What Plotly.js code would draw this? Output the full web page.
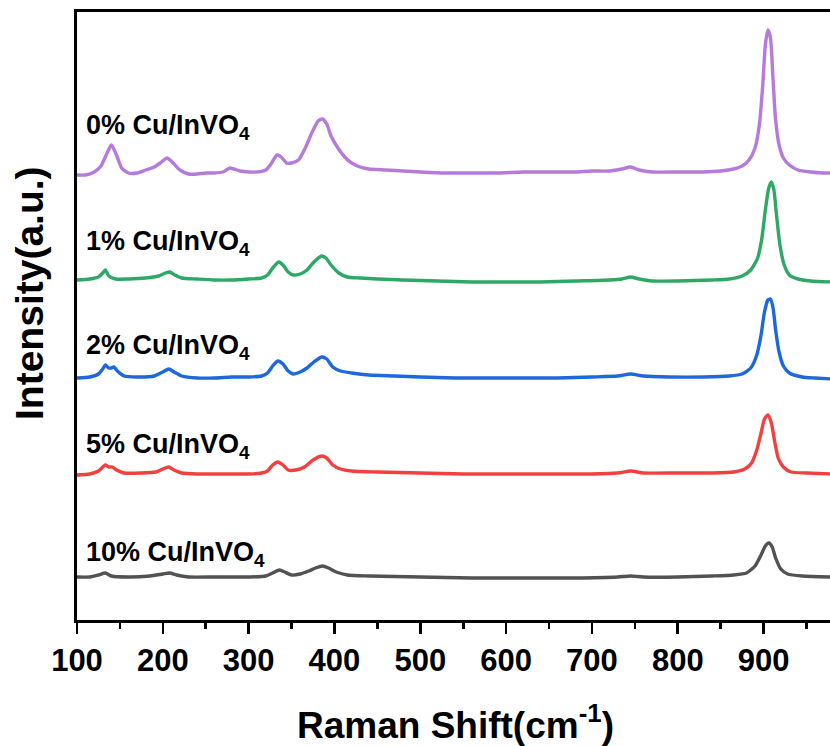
<!DOCTYPE html>
<html>
<head>
<meta charset="utf-8">
<script src="https://cdn.plot.ly/plotly-3.0.1.min.js"></script>
<style>
html,body{margin:0;padding:0;overflow:hidden;background:#fff;}
#chart{width:834px;height:746px;}
</style>
</head>
<body>
<div id="chart"></div>
<script>
// Raman shift (cm^-1) and stacked intensities (a.u.)
const shift0 = [100,110,120,128,134,140,146,152,160,170,180,190,197,205,212,220,230,240,250,260,270,278,283,290,300,310,320,326,333,338,344,350,358,366,374,381,386,391,396,404,412,420,430,440,460,480,500,530,560,590,620,650,680,700,720,735,745,755,770,800,830,850,865,875,883,890,895,899,902,905,908,911,914,918,923,930,940,955,970,980];
const int0   = [445,445,448,454,465,475,465,452,447,447,450,453,457,462,457,450,446,446,447,447,448,452,451,449,448,448,450,456,465,463,457,457,460,472,488,499,501,496,484,472,463,457,453,451,450,449,448,447,447,447,448,448,448,449,449,451,453,450,448,448,448,449,451,454,460,472,495,535,575,590,582,540,500,475,462,455,450,448,447,447];

const shift1 = [100,115,125,130,133,137,145,160,180,195,203,208,214,222,240,260,280,300,315,322,328,335,340,346,352,360,368,376,385,390,396,405,415,430,450,480,520,560,600,640,680,720,735,745,755,770,800,840,860,875,885,893,898,902,906,909,912,915,919,924,930,940,955,980];
const int1   = [340,341,343,347,350,344,341,341,342,344,347,348,345,342,341,340,340,341,342,345,352,358,355,348,345,346,350,358,364,362,355,347,343,342,341,340,339,338,338,338,339,340,341,343,341,339,339,340,341,344,350,362,382,410,432,438,430,405,375,355,345,341,339,338];

const shift2 = [100,115,125,130,133,137,140,143,147,155,170,190,200,207,213,222,240,260,280,290,300,315,322,328,334,340,346,352,360,368,376,385,391,398,407,420,440,470,500,540,580,620,660,700,730,745,760,790,830,860,875,885,892,897,901,905,908,911,914,918,923,930,945,960,980];
const int2   = [242,243,246,251,255,252,252,253,249,244,243,244,248,251,248,244,242,242,243,243,243,244,247,254,259,256,249,246,248,252,258,263,261,253,249,247,245,244,243,242,242,242,242,243,244,246,244,243,243,244,246,252,265,285,308,320,321,312,290,268,254,247,243,242,241];

const shift5 = [100,115,125,130,133,137,141,146,155,175,192,200,207,213,222,240,270,300,315,322,328,334,340,346,355,365,375,385,391,398,407,420,450,500,550,600,650,700,730,745,760,800,840,865,878,886,892,897,901,905,909,913,917,923,932,950,980];
const int5   = [145,146,149,153,155,153,153,150,147,147,148,151,153,150,147,146,146,146,147,149,155,158,155,150,150,153,160,164,162,155,151,149,148,147,146,146,146,146,147,149,147,147,147,148,151,157,170,187,201,205,197,178,162,153,148,147,146];

const shift10 = [100,115,125,133,140,160,185,200,208,216,230,260,300,320,328,336,342,350,360,370,378,386,393,402,415,440,500,560,620,680,730,745,760,800,840,865,880,890,897,902,906,910,914,920,928,945,980];
const int10   = [43,43,45,47,44,43,44,46,47,45,43,43,43,44,47,50,48,45,46,49,52,54,52,48,45,44,43,42,42,42,43,44,43,43,44,45,47,54,65,74,77,73,62,51,46,44,43];

const seriesNames = ["0% Cu/InVO<sub>4</sub>","1% Cu/InVO<sub>4</sub>","2% Cu/InVO<sub>4</sub>","5% Cu/InVO<sub>4</sub>","10% Cu/InVO<sub>4</sub>"];
const seriesColors = ["#b57bdc","#2ea865","#1c68dc","#f2403f","#525252"];
const labelX = [108,108,108,108,108];
const labelY = [493,377,273,174,66];
const xTicks = [100,200,300,400,500,600,700,800,900];

const xs = [shift0, shift1, shift2, shift5, shift10];
const ys = [int0, int1, int2, int5, int10];

const traces = xs.map((x, i) => ({
  x: x, y: ys[i], type: 'scatter', mode: 'lines', name: seriesNames[i],
  line: {color: seriesColors[i], width: 3.4, shape: 'spline', smoothing: 0.6},
  hoverinfo: 'skip'
}));

const font = {family: '"Liberation Sans", Arial, sans-serif', color: '#000', weight: 'bold'};

const annotations = seriesNames.map((t, i) => ({
  x: labelX[i], y: labelY[i], xref: 'x', yref: 'y', text: t, showarrow: false,
  xanchor: 'left', yanchor: 'middle',
  font: Object.assign({}, font, {size: 27})
}));
annotations.push({
  x: 0.5, y: -0.168, xref: 'paper', yref: 'paper', showarrow: false,
  text: 'Raman Shift(cm<sup>-1</sup>)', xanchor: 'center', yanchor: 'middle',
  font: Object.assign({}, font, {size: 37})
});
annotations.push({
  x: -0.062, y: 0.538, xref: 'paper', yref: 'paper', showarrow: false,
  text: 'Intensity(a.u.)', textangle: -90, xanchor: 'center', yanchor: 'middle',
  font: Object.assign({}, font, {size: 39})
});

const layout = {
  width: 834, height: 746, autosize: false,
  margin: {l: 77, r: 0, t: 12, b: 126},
  paper_bgcolor: '#fff', plot_bgcolor: '#fff',
  showlegend: false,
  xaxis: {
    range: [100, 982], showgrid: false, zeroline: false,
    showline: true, linecolor: '#000', linewidth: 2.6, mirror: true,
    ticks: 'outside', ticklen: 11, tickwidth: 2.6, tickcolor: '#000',
    tickvals: xTicks, ticktext: xTicks.map(String),
    tickfont: Object.assign({}, font, {size: 31}),
    minor: {dtick: 50, tick0: 150, ticks: 'outside', ticklen: 6, tickwidth: 2.6, tickcolor: '#000', showgrid: false}
  },
  yaxis: {
    range: [0, 608], showgrid: false, zeroline: false,
    showline: true, linecolor: '#000', linewidth: 2.6, mirror: true,
    ticks: '', showticklabels: false
  },
  annotations: annotations
};

Plotly.newPlot('chart', traces, layout, {displayModeBar: false, staticPlot: true});
</script>
</body>
</html>
